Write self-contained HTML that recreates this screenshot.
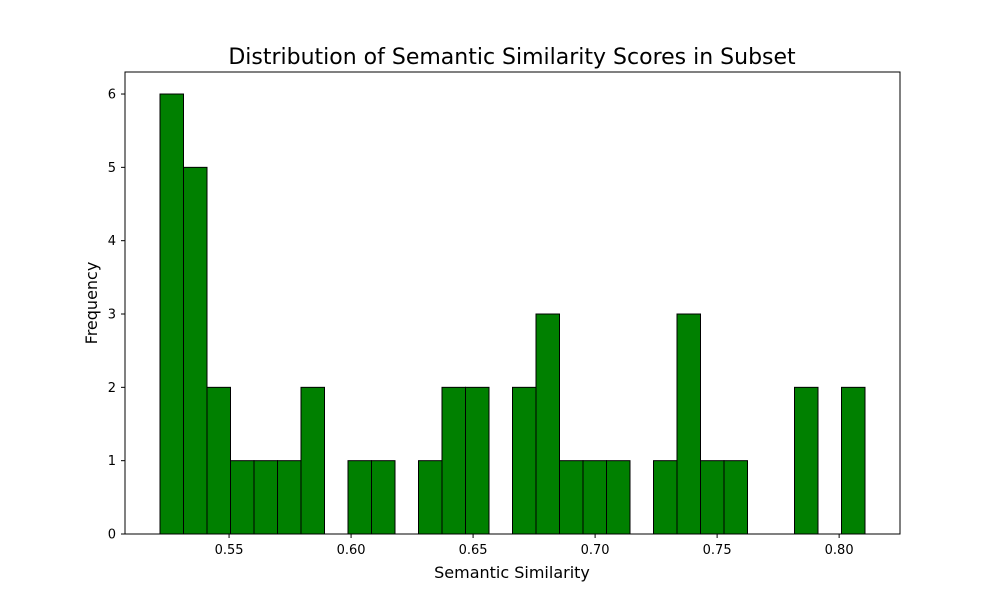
<!DOCTYPE html>
<html><head><meta charset="utf-8"><style>
body{margin:0;background:#fff;font-family:"Liberation Sans","DejaVu Sans",sans-serif}
svg text{font-family:"DejaVu Sans","Liberation Sans",sans-serif}
</style></head><body>
<svg id="chart" width="1000" height="600" xmlns="http://www.w3.org/2000/svg">
<rect width="1000" height="600" fill="#fff"/>
<text x="512" y="64" font-size="22" text-anchor="middle">Distribution of Semantic Similarity Scores in Subset</text>
<g id="bars"></g>
<rect x="125" y="72" width="775" height="462" fill="none" stroke="#000" stroke-width="1"/>
<g id="xt"></g>
<g id="yt"></g>
<text x="512" y="578" font-size="16" text-anchor="middle">Semantic Similarity</text>
<text transform="translate(97,303) rotate(-90)" font-size="16" text-anchor="middle">Frequency</text>
</svg>
<script>
const counts=[6,5,2,1,1,1,2,0,1,1,0,1,2,2,0,2,3,1,1,1,0,1,3,1,1,0,0,2,0,2];
const binMin=0.5217;
const binMax=0.8106;
const xTicks=[0.55,0.60,0.65,0.70,0.75,0.80];
const xTickLabels=["0.55","0.60","0.65","0.70","0.75","0.80"];
const yTicks=[0,1,2,3,4,5,6];
const X=v=>160+(v-binMin)*(705/(binMax-binMin));
const Y=v=>534-v*73.33;
const NS="http://www.w3.org/2000/svg";
const bars=document.getElementById('bars');
const w=(binMax-binMin)/counts.length;
counts.forEach((c,i)=>{
  if(c<=0)return;
  const r=document.createElementNS(NS,'rect');
  const x0=X(binMin+i*w),x1=X(binMin+(i+1)*w);
  r.setAttribute('x',x0);r.setAttribute('y',Y(c));
  r.setAttribute('width',x1-x0);r.setAttribute('height',Y(0)-Y(c));
  r.setAttribute('fill','#008000');r.setAttribute('stroke','#000');r.setAttribute('stroke-width','1');
  
  
  bars.appendChild(r);
});
const xt=document.getElementById('xt');
xTicks.forEach((t,i)=>{
  const x=X(t);
  const l=document.createElementNS(NS,'line');
  l.setAttribute('x1',x);l.setAttribute('x2',x);l.setAttribute('y1',534);l.setAttribute('y2',538);l.setAttribute('stroke','#000');
  
  
  xt.appendChild(l);
  const tx=document.createElementNS(NS,'text');
  tx.setAttribute('x',x);tx.setAttribute('y',554);tx.setAttribute('font-size','13');tx.setAttribute('text-anchor','middle');
  tx.textContent=xTickLabels[i];
  
  
  xt.appendChild(tx);
});
const yt=document.getElementById('yt');
yTicks.forEach(t=>{
  const y=Y(t);
  const l=document.createElementNS(NS,'line');
  l.setAttribute('x1',121);l.setAttribute('x2',125);l.setAttribute('y1',y);l.setAttribute('y2',y);l.setAttribute('stroke','#000');
  
  
  yt.appendChild(l);
  const tx=document.createElementNS(NS,'text');
  tx.setAttribute('x',116);tx.setAttribute('y',y+4.5);tx.setAttribute('font-size','13');tx.setAttribute('text-anchor','end');
  tx.textContent=t;
  
  
  yt.appendChild(tx);
});
</script>
</body></html>
